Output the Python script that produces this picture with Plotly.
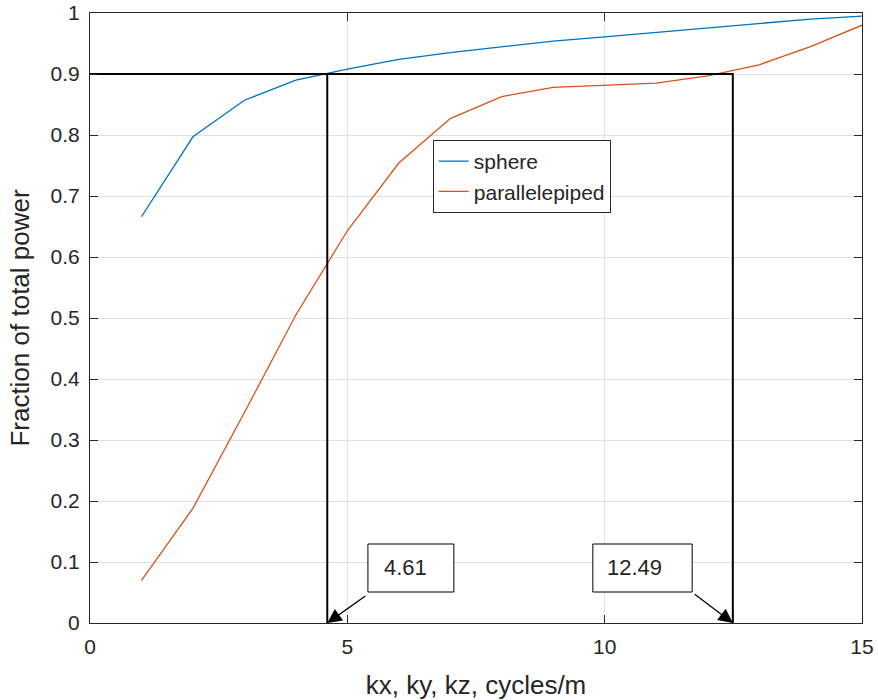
import plotly.graph_objects as go

# ---- data ----
kx = [1, 2, 3, 4, 5, 6, 7, 8, 9, 10, 11, 12, 13, 14, 15]
sphere = [0.666, 0.797, 0.857, 0.890, 0.908, 0.924, 0.935, 0.945, 0.954, 0.961,
          0.968, 0.976, 0.983, 0.990, 0.995]
parallelepiped = [0.070, 0.188, 0.345, 0.505, 0.643, 0.754, 0.827, 0.863, 0.878, 0.881,
                  0.885, 0.897, 0.915, 0.945, 0.980]
threshold = 0.9
k_sphere = 4.61
k_par = 12.49
x_ticks = [0, 5, 10, 15]
y_ticks = [0, 0.1, 0.2, 0.3, 0.4, 0.5, 0.6, 0.7, 0.8, 0.9, 1]
y_tick_labels = ["0", "0.1", "0.2", "0.3", "0.4", "0.5", "0.6", "0.7", "0.8", "0.9", "1"]

FONT = "Liberation Sans, Arial, sans-serif"
AX = "#262626"
BLUE = "#0072BD"
ORANGE = "#D95319"

fig = go.Figure()
fig.add_trace(go.Scatter(x=kx, y=sphere, mode="lines", name="sphere",
                         line=dict(color=BLUE, width=1.3)))
fig.add_trace(go.Scatter(x=kx, y=parallelepiped, mode="lines", name="parallelepiped",
                         line=dict(color=ORANGE, width=1.3)))
# threshold guide lines
fig.add_trace(go.Scatter(x=[0, k_par, k_par], y=[threshold, threshold, 0], mode="lines",
                         line=dict(color="black", width=2), showlegend=False, hoverinfo="skip"))
fig.add_trace(go.Scatter(x=[k_sphere, k_sphere], y=[threshold, 0], mode="lines",
                         line=dict(color="black", width=2), showlegend=False, hoverinfo="skip"))

# text boxes with arrows
boxes = [
    dict(x0=5.40, x1=7.07, tx=5.67, label=f"{k_sphere:.2f}", tail=(5.38, 0.046), head=k_sphere),
    dict(x0=9.77, x1=11.70, tx=10.0, label=f"{k_par:.2f}", tail=(11.72, 0.049), head=k_par),
]
annotations = []
shapes = []
for b in boxes:
    shapes.append(dict(type="rect", xref="x", yref="y", x0=b["x0"], x1=b["x1"],
                       y0=0.0508, y1=0.1295, line=dict(color="black", width=1),
                       fillcolor="white", layer="above"))
    annotations.append(dict(x=b["tx"], y=0.091, xref="x", yref="y", text=b["label"],
                            showarrow=False, xanchor="left", yanchor="middle",
                            font=dict(family=FONT, size=22, color="#262626")))
    annotations.append(dict(x=b["head"], y=0, xref="x", yref="y", ax=b["tail"][0], ay=b["tail"][1],
                            axref="x", ayref="y", text="", showarrow=True, arrowhead=2,
                            arrowsize=2.2, arrowwidth=1.3, arrowcolor="black", standoff=0))

axis_common = dict(showline=True, linecolor=AX, linewidth=1, mirror="ticks",
                   ticks="inside", ticklen=8, tickcolor=AX, tickwidth=1,
                   showgrid=True, gridcolor="#e0e0e0", gridwidth=1, zeroline=False,
                   automargin=False, ticklabelstandoff=5,
                   tickfont=dict(family=FONT, size=21, color=AX))

fig.update_layout(
    width=878, height=700,
    margin=dict(l=90, r=16, t=13, b=77),
    paper_bgcolor="white", plot_bgcolor="white",
    xaxis=dict(range=[0, 15], tickvals=x_ticks,
               title=dict(text="kx, ky, kz, cycles/m", font=dict(family=FONT, size=26, color=AX),
                          standoff=20),
               **axis_common),
    yaxis=dict(range=[0, 1], tickvals=y_ticks, ticktext=y_tick_labels,
               title=dict(text="Fraction of total power", font=dict(family=FONT, size=26, color=AX),
                          standoff=13),
               **axis_common),
    legend=dict(x=0.444, y=0.792, xanchor="left", yanchor="top",
                bordercolor=AX, borderwidth=1, bgcolor="white",
                font=dict(family=FONT, size=21, color="#262626"),
                tracegroupgap=0, itemwidth=30),
    shapes=shapes,
    annotations=annotations,
    showlegend=True,
)

# remove the browser's default body margin so the 878x700 figure fills the window exactly
fig.write_html("out.html",
               config={"displayModeBar": False},
               post_script="document.body.style.margin='0px';"
                           "document.documentElement.style.overflow='hidden';")
